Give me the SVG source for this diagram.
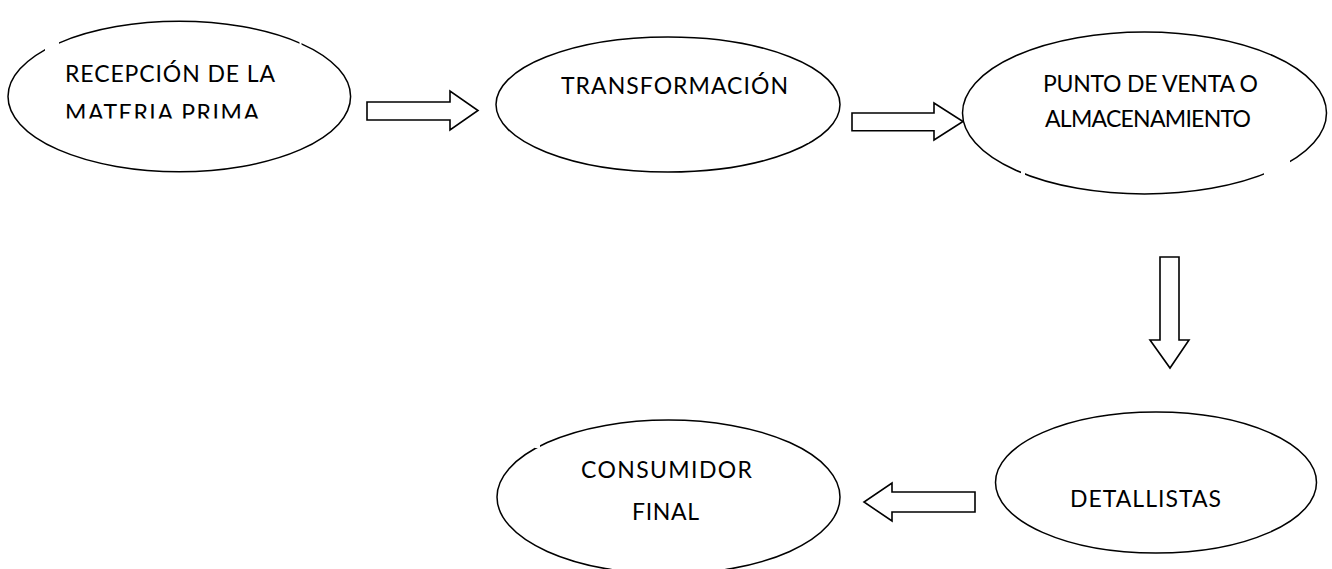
<svg xmlns="http://www.w3.org/2000/svg" width="1332" height="569" viewBox="0 0 1332 569">
  <style>
    .node { fill: #ffffff; stroke: #000000; stroke-width: 1.5; }
    .gap { fill: #ffffff; stroke: none; }
    .arrow { fill: #ffffff; stroke: #000000; stroke-width: 1.6; stroke-linejoin: miter; }
    .label { font-family: Lato, "Open Sans", "Liberation Sans", sans-serif; font-size: 23px; fill: #000000; }
  </style>
  <defs>
    <clipPath id="clip1">
      <rect x="0" y="0" width="400" height="118.5"/>
    </clipPath>
  </defs>
  <rect width="1332" height="569" fill="#ffffff"/>

  <g id="connectors">
    <polygon class="arrow" points="367,102 450,102 450,91 478,110.5 450,130 450,120 367,120"/>
    <polygon class="arrow" points="852,113 934,113 934,103 963,121.5 934,140 934,130.7 852,130.7"/>
    <polygon class="arrow" points="1160,257 1179,257 1179,340 1189,340 1170,368 1150,340 1160,340"/>
    <polygon class="arrow" points="975,492 892,492 892,483 864,502 892,521 892,512 975,512"/>
  </g>

  <g id="node-recepcion">
    <ellipse class="node" cx="179.3" cy="96.5" rx="171.3" ry="75.2"/>
    <rect class="gap" x="45" y="38" width="14" height="16"/>
    <rect class="gap" x="299.5" y="38" width="2" height="10"/>
    <text class="label" x="65" y="82" textLength="210" lengthAdjust="spacing">RECEPCIÓN DE LA</text>
    <text class="label" x="65" y="121" textLength="194" lengthAdjust="spacing" clip-path="url(#clip1)">MATERIA PRIMA</text>
  </g>

  <g id="node-transformacion">
    <ellipse class="node" cx="668" cy="104.5" rx="172" ry="67.5"/>
    <rect class="gap" x="806" y="133" width="2.5" height="10"/>
    <text class="label" x="561" y="94" textLength="227" lengthAdjust="spacing">TRANSFORMACIÓN</text>
  </g>

  <g id="node-punto-venta">
    <ellipse class="node" cx="1144.5" cy="113" rx="182" ry="81"/>
    <rect class="gap" x="1021" y="164" width="4" height="12"/>
    <rect class="gap" x="1264" y="150" width="26" height="28"/>
    <text class="label" x="1043" y="92" textLength="215" lengthAdjust="spacing">PUNTO DE VENTA O</text>
    <text class="label" x="1045" y="127" textLength="206" lengthAdjust="spacing">ALMACENAMIENTO</text>
  </g>

  <g id="node-detallistas">
    <ellipse class="node" cx="1156" cy="482.5" rx="160.5" ry="70.5"/>
    <text class="label" x="1070" y="507" textLength="151" lengthAdjust="spacing">DETALLISTAS</text>
  </g>

  <g id="node-consumidor">
    <ellipse class="node" cx="668.5" cy="497" rx="171.5" ry="77"/>
    <rect class="gap" x="535" y="434" width="5" height="14"/>
    <text class="label" x="581" y="478" textLength="171" lengthAdjust="spacing">CONSUMIDOR</text>
    <text class="label" x="632" y="520" textLength="67" lengthAdjust="spacing">FINAL</text>
  </g>
</svg>
